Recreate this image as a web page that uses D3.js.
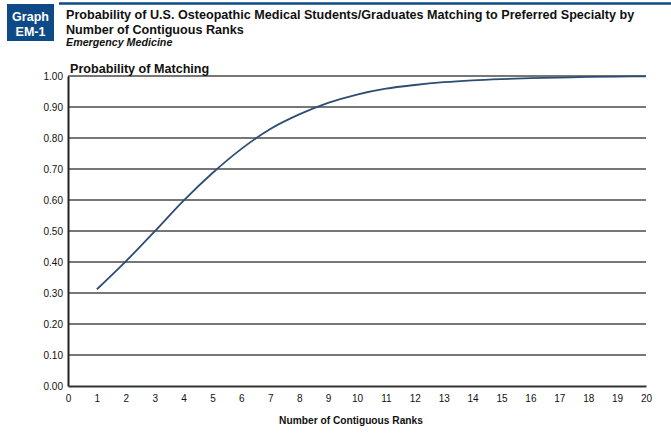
<!DOCTYPE html>
<html><head><meta charset="utf-8">
<script src="https://cdn.jsdelivr.net/npm/d3@7"></script>
<style>body{margin:0;background:#fff;font-family:"Liberation Sans",Arial,sans-serif}</style>
</head><body><svg id="c" width="671" height="441"></svg>
<script>
const ranks = [1,2,3,4,5,6,7,8,9,10,11,12,13,14,15,16,17,18,19,20];
const probability = [0.312,0.402,0.499,0.598,0.687,0.765,0.829,0.876,0.913,0.940,0.959,0.971,0.980,0.986,0.990,0.993,0.995,0.997,0.998,0.999];
const xTicks = d3.range(0,21);
const yTicks = [0,0.1,0.2,0.3,0.4,0.5,0.6,0.7,0.8,0.9,1.0];

const svg = d3.select("#c");
const x = d3.scaleLinear().domain([0,20]).range([68,646]);
const y = d3.scaleLinear().domain([0,1]).range([386,76]);

// header
svg.append("rect").attr("x",7).attr("y",4).attr("width",47).attr("height",37).attr("fill","#0d4a86");
svg.append("line").attr("x1",59).attr("x2",671).attr("y1",3.5).attr("y2",3.5).attr("stroke","#0d4a86").attr("stroke-width",2.5);
svg.append("text").attr("x",30.5).attr("y",21).attr("text-anchor","middle").attr("fill","#fff").attr("font-weight","bold").attr("font-size",12.5).text("Graph");
svg.append("text").attr("x",30.5).attr("y",36).attr("text-anchor","middle").attr("fill","#fff").attr("font-weight","bold").attr("font-size",12.5).text("EM-1");
svg.append("text").attr("x",66).attr("y",19).attr("font-weight","bold").attr("font-size",12.6).attr("fill","#111").text("Probability of U.S. Osteopathic Medical Students/Graduates Matching to Preferred Specialty by");
svg.append("text").attr("x",66).attr("y",34).attr("font-weight","bold").attr("font-size",12.6).attr("fill","#111").text("Number of Contiguous Ranks");
svg.append("text").attr("x",66).attr("y",46).attr("font-weight","bold").attr("font-style","italic").attr("font-size",10.7).attr("fill","#111").text("Emergency Medicine");

// gridlines
svg.append("g").selectAll("line").data(yTicks.filter(d=>d>0)).join("line")
  .attr("x1",x(0)).attr("x2",x(20)).attr("y1",d=>y(d)).attr("y2",d=>y(d))
  .attr("stroke","#4a4a4a").attr("stroke-width",1.3);

// y axis
const yAxis = d3.axisLeft(y).tickValues(yTicks).tickFormat(d3.format(".2f")).tickSize(0).tickPadding(5);
const gy = svg.append("g").attr("transform",`translate(${x(0)},0)`).call(yAxis);
gy.select(".domain").attr("stroke","#222").attr("stroke-width",2);
gy.selectAll("text").attr("font-size",10).attr("fill","#111").attr("font-family","Liberation Sans, Arial, sans-serif");

// x axis
const xAxis = d3.axisBottom(x).tickValues(xTicks).tickFormat(d3.format("d")).tickSize(0).tickPadding(9);
const gx = svg.append("g").attr("transform",`translate(0,${y(0)})`).call(xAxis);
gx.select(".domain").attr("stroke","#333").attr("stroke-width",2);
gx.selectAll("text").attr("font-size",10).attr("fill","#111").attr("font-family","Liberation Sans, Arial, sans-serif");

svg.append("text").attr("x",70).attr("y",73).attr("font-weight","bold").attr("font-size",12.6).attr("fill","#111").text("Probability of Matching");
svg.append("text").attr("x",351).attr("y",424).attr("text-anchor","middle").attr("font-weight","bold").attr("font-size",10.2).attr("fill","#111").text("Number of Contiguous Ranks");

// line
const line = d3.line().x((d,i)=>x(ranks[i])).y(d=>y(d)).curve(d3.curveMonotoneX);
svg.append("path").datum(probability).attr("d",line).attr("fill","none").attr("stroke","#2c4d74").attr("stroke-width",1.8);
</script></body></html>
